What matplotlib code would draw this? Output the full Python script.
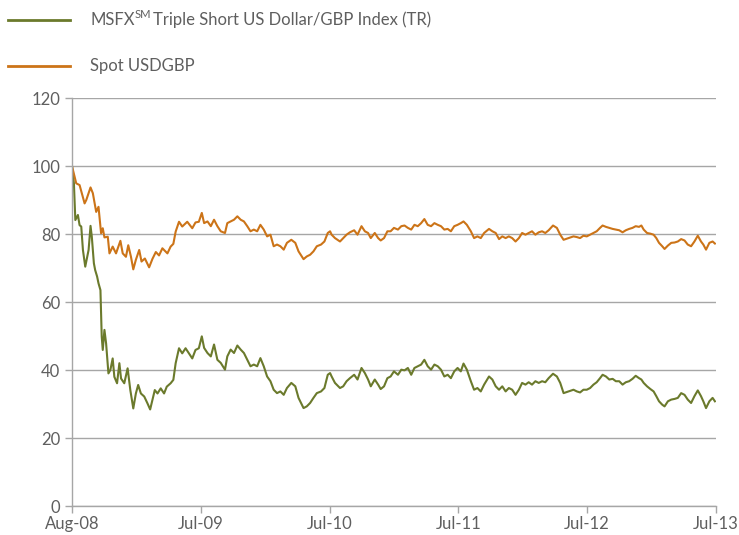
import matplotlib
matplotlib.use("Agg")
import matplotlib.pyplot as plt
from matplotlib.lines import Line2D

# x is in tick-interval units: 0 = Aug-08, 1 = Jul-09, ... 5 = Jul-13
tick_labels = ["Aug-08", "Jul-09", "Jul-10", "Jul-11", "Jul-12", "Jul-13"]

spot_x = [
    0.000, 0.033, 0.059, 0.098, 0.111, 0.144, 0.162, 0.188, 0.206, 0.226, 0.239, 0.252,
    0.278, 0.291, 0.316, 0.342, 0.376, 0.394, 0.419, 0.437, 0.458, 0.476, 0.496, 0.522,
    0.540, 0.566, 0.599, 0.625, 0.651, 0.676, 0.702, 0.741, 0.766, 0.787, 0.805, 0.831,
    0.856, 0.895, 0.934, 0.959, 0.985,
    1.008, 1.026, 1.052, 1.078, 1.103, 1.129, 1.155, 1.188, 1.206, 1.232, 1.258, 1.284,
    1.310, 1.335, 1.361, 1.386, 1.412, 1.438, 1.463, 1.489, 1.515, 1.541, 1.566, 1.592,
    1.618, 1.644, 1.669, 1.703, 1.734, 1.759, 1.798, 1.823, 1.849, 1.875, 1.901, 1.934,
    1.960, 1.986, 2.004,
    2.016, 2.042, 2.081, 2.106, 2.132, 2.158, 2.191, 2.217, 2.248, 2.274, 2.299, 2.320,
    2.351, 2.377, 2.397, 2.423, 2.449, 2.474, 2.500, 2.531, 2.557, 2.582, 2.608, 2.634,
    2.659, 2.685, 2.711, 2.736, 2.762, 2.788, 2.814, 2.840, 2.865, 2.891, 2.917, 2.942,
    2.968,
    2.994, 3.019, 3.040, 3.066, 3.097, 3.122, 3.148, 3.174, 3.200, 3.238, 3.264, 3.290,
    3.316, 3.341, 3.367, 3.392, 3.418, 3.444, 3.470, 3.495, 3.521, 3.546, 3.572, 3.598,
    3.624, 3.650, 3.675, 3.701, 3.735, 3.765, 3.791, 3.817, 3.894, 3.920, 3.945, 3.971,
    3.997, 4.023, 4.049, 4.074, 4.100, 4.120, 4.146, 4.172, 4.198, 4.223, 4.249, 4.275,
    4.300, 4.326, 4.352, 4.377, 4.403, 4.421, 4.439, 4.465, 4.491, 4.516, 4.537, 4.558,
    4.583, 4.601, 4.627, 4.653, 4.679, 4.704, 4.730, 4.756, 4.781, 4.807, 4.833, 4.859,
    4.884, 4.902, 4.923, 4.949, 4.974, 4.992,
]
spot_usdgbp = [
    100.0, 94.9, 94.4, 89.0, 90.0, 93.7, 92.0, 86.5, 88.0, 80.2, 81.7, 79.0,
    79.2, 74.3, 76.3, 74.3, 78.0, 74.3, 73.3, 76.7, 73.3, 69.6, 72.4, 75.3,
    71.9, 72.8, 70.2, 72.7, 74.7, 73.7, 75.8, 74.3, 76.3, 77.1, 80.7, 83.6,
    82.2, 83.6, 81.7, 83.4, 83.6,
    86.2, 83.2, 83.7, 82.3, 84.2, 82.3, 80.8, 80.3, 83.2, 83.7, 84.2, 85.2,
    84.2, 83.7, 82.3, 80.8, 81.3, 80.8, 82.7, 81.3, 79.3, 79.8, 76.4, 76.9,
    76.4, 75.4, 77.4, 78.3, 77.4, 74.9, 72.6, 73.4, 73.9, 74.9, 76.4, 76.9,
    77.8, 80.3, 80.8,
    79.8, 78.8, 77.8, 78.8, 79.8, 80.5, 81.1, 79.8, 82.3, 80.8, 80.3, 78.8,
    80.3, 78.8, 78.1, 78.8, 80.8, 80.8, 81.8, 81.3, 82.3, 82.5, 81.8, 81.3,
    82.7, 82.3, 83.2, 84.4, 82.7, 82.3, 83.2, 82.7, 82.3, 81.3, 81.5, 80.8,
    82.3,
    82.7, 83.2, 83.7, 82.7, 80.8, 78.8, 79.3, 78.8, 80.3, 81.5, 80.8, 80.3,
    78.5, 79.3, 78.8, 79.3, 78.8, 77.8, 78.8, 80.3, 79.8, 80.3, 80.8, 79.8,
    80.5, 80.8, 80.3, 81.1, 82.5, 81.8, 79.8, 78.3, 79.3, 79.1, 78.8, 79.5,
    79.3, 79.8, 80.3, 80.8, 81.8, 82.5, 82.1, 81.8, 81.5, 81.3, 81.1, 80.5,
    81.1, 81.5, 81.8, 82.3, 82.1, 82.5, 81.3, 80.3, 80.1, 79.8, 78.8, 77.4,
    76.4, 75.6, 76.6, 77.4, 77.5, 77.8, 78.5, 78.1, 76.9, 76.4, 77.8, 79.5,
    77.8, 76.9, 75.4, 77.4, 77.8, 77.2,
]

msfx_x = [
    0.000, 0.015, 0.026, 0.046, 0.059, 0.072, 0.085, 0.103, 0.118, 0.129, 0.144, 0.154,
    0.170, 0.180, 0.195, 0.206, 0.221, 0.231, 0.239, 0.252, 0.265, 0.283, 0.298, 0.316,
    0.329, 0.350, 0.368, 0.381, 0.406, 0.432, 0.453, 0.476, 0.496, 0.514, 0.535, 0.561,
    0.586, 0.607, 0.625, 0.643, 0.664, 0.689, 0.715, 0.736, 0.766, 0.787, 0.805, 0.831,
    0.856, 0.882, 0.908, 0.934, 0.959, 0.985,
    1.008, 1.026, 1.052, 1.078, 1.103, 1.129, 1.155, 1.188, 1.206, 1.232, 1.258, 1.284,
    1.310, 1.335, 1.361, 1.386, 1.412, 1.438, 1.463, 1.489, 1.515, 1.541, 1.566, 1.592,
    1.618, 1.644, 1.669, 1.703, 1.734, 1.759, 1.798, 1.823, 1.849, 1.875, 1.901, 1.934,
    1.960, 1.986, 2.004,
    2.016, 2.042, 2.081, 2.106, 2.132, 2.158, 2.191, 2.217, 2.248, 2.274, 2.299, 2.320,
    2.351, 2.377, 2.397, 2.423, 2.449, 2.474, 2.500, 2.531, 2.557, 2.582, 2.608, 2.634,
    2.659, 2.685, 2.711, 2.736, 2.762, 2.788, 2.814, 2.840, 2.865, 2.891, 2.917, 2.942,
    2.968,
    2.994, 3.019, 3.040, 3.066, 3.097, 3.122, 3.148, 3.174, 3.200, 3.238, 3.264, 3.290,
    3.316, 3.341, 3.367, 3.392, 3.418, 3.444, 3.470, 3.495, 3.521, 3.546, 3.572, 3.598,
    3.624, 3.650, 3.675, 3.701, 3.735, 3.765, 3.791, 3.817, 3.894, 3.920, 3.945, 3.971,
    3.997, 4.023, 4.049, 4.074, 4.100, 4.120, 4.146, 4.172, 4.198, 4.223, 4.249, 4.275,
    4.300, 4.326, 4.352, 4.377, 4.403, 4.421, 4.439, 4.465, 4.491, 4.516, 4.537, 4.558,
    4.583, 4.601, 4.627, 4.653, 4.679, 4.704, 4.730, 4.756, 4.781, 4.807, 4.833, 4.859,
    4.884, 4.902, 4.923, 4.949, 4.974, 4.992,
]
msfx_triple_short = [
    100.0, 94.9, 84.1, 85.6, 82.6, 82.2, 75.3, 70.4, 73.3, 75.3, 82.4, 79.2,
    71.4, 69.4, 67.5, 65.5, 63.5, 49.8, 45.9, 51.8, 47.8, 39.0, 40.0, 43.4,
    38.0, 36.1, 42.0, 37.5, 36.1, 40.5, 34.1, 28.7, 33.1, 35.6, 33.1, 32.2,
    30.2, 28.4, 31.2, 34.1, 33.1, 34.6, 33.1, 35.1, 36.1, 37.1, 42.0, 46.4,
    44.9, 46.4, 44.9, 43.4, 45.9, 46.4,
    49.9, 46.5, 45.0, 44.0, 47.5, 43.0, 42.1, 40.1, 44.0, 46.0, 45.0, 47.2,
    46.0, 45.0, 43.0, 41.1, 41.6, 41.1, 43.5, 41.1, 38.1, 36.7, 34.2, 33.2,
    33.7, 32.7, 34.7, 36.2, 35.2, 31.8, 28.8, 29.3, 30.3, 31.8, 33.2, 33.7,
    34.7, 38.6, 39.1,
    38.1, 36.2, 34.7, 35.2, 36.7, 37.6, 38.6, 37.2, 40.6, 39.1, 37.2, 35.2,
    37.2, 35.7, 34.4, 35.2, 37.6, 38.1, 39.6, 38.6, 40.1, 39.9, 40.6, 38.6,
    40.6, 41.1, 41.6, 43.0, 41.1, 40.1, 41.6, 41.1, 40.1, 38.1, 38.6, 37.6,
    39.6,
    40.6, 39.6, 41.9, 40.1, 36.7, 34.2, 34.7, 33.7, 35.7, 38.1, 37.2, 35.2,
    34.2, 35.2, 33.7, 34.7, 34.2, 32.7, 34.2, 36.2, 35.7, 36.4, 35.7, 36.7,
    36.2, 36.7, 36.4, 37.6, 38.9, 38.1, 36.2, 33.2, 34.2, 33.7, 33.4, 34.2,
    34.2, 34.7, 35.7, 36.4, 37.6, 38.6, 38.1, 37.2, 37.4, 36.7, 36.7, 35.7,
    36.4, 36.7, 37.4, 38.3, 37.6, 37.2, 36.2, 35.2, 34.4, 33.7, 32.3, 30.8,
    29.8, 29.3, 30.8, 31.3, 31.5, 31.8, 33.2, 32.7, 31.3, 30.3, 32.3, 34.0,
    32.3, 30.8, 28.8, 30.8, 31.8, 30.8,
]

green = "#6b7a2c"
orange = "#cc7418"
grey_text = "#5f5f5f"
grid_col = "#a6a6a6"

plt.rcParams["font.family"] = ["Lato", "DejaVu Sans"]

fig = plt.figure(figsize=(7.39, 5.35), dpi=100)
ax = fig.add_axes([0.0974, 0.0542, 0.8714, 0.7626])

ax.plot(msfx_x, msfx_triple_short, color=green, lw=1.5)
ax.plot(spot_x, spot_usdgbp, color=orange, lw=1.5)

ax.set_xlim(0, 5)
ax.set_ylim(0, 120)
ax.set_yticks(range(0, 121, 20))
ax.set_xticks(range(6))
ax.set_xticklabels(tick_labels)
ax.yaxis.grid(True, color=grid_col, lw=1)
ax.set_axisbelow(True)
for s in ["top", "right"]:
    ax.spines[s].set_visible(False)
for s in ["left", "bottom"]:
    ax.spines[s].set_color(grid_col)
    ax.spines[s].set_linewidth(1)
ax.tick_params(color=grid_col, labelsize=12, length=5, width=1)
ax.tick_params(labelcolor=grey_text)
ax.tick_params(axis="x", pad=2)

# legend drawn by hand at the top
fig.add_artist(Line2D([8 / 739, 70 / 739], [1 - 20 / 535] * 2, color=green, lw=2))
fig.add_artist(Line2D([8 / 739, 70 / 739], [1 - 66 / 535] * 2, color=orange, lw=2))

tx = 90 / 739
t1 = fig.text(tx, 1 - 20 / 535, "MSFX", color=grey_text, fontsize=12, va="center")
fig.canvas.draw()
r = fig.canvas.get_renderer()
bb = t1.get_window_extent(r)
t2 = fig.text(bb.x1 / 739, 1 - 15 / 535, "SM", color=grey_text, fontsize=8, va="center")
bb2 = t2.get_window_extent(r)
fig.text(bb2.x1 / 739 + 0.003, 1 - 20 / 535, "Triple Short US Dollar/GBP Index (TR)",
         color=grey_text, fontsize=12, va="center")
fig.text(tx, 1 - 66 / 535, "Spot USDGBP", color=grey_text, fontsize=12, va="center")

fig.savefig("out.png", dpi=100)
